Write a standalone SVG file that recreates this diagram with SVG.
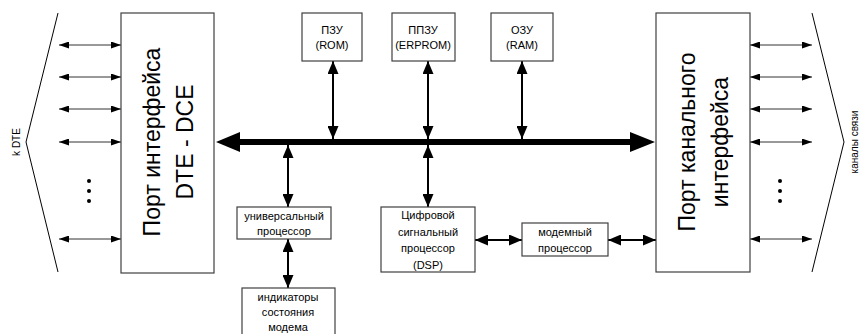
<svg xmlns="http://www.w3.org/2000/svg" width="861" height="334" viewBox="0 0 861 334">
<defs>
<marker id="am" markerUnits="userSpaceOnUse" markerWidth="13" markerHeight="11" refX="13" refY="5.5" orient="auto-start-reverse"><path d="M0,0 L13,5.5 L0,11 z" fill="#000"/></marker>
<marker id="as" markerUnits="userSpaceOnUse" markerWidth="10" markerHeight="7" refX="10" refY="3.5" orient="auto-start-reverse"><path d="M0,0 L10,3.5 L0,7 z" fill="#000"/></marker>
<style>
.box{fill:#fff;stroke:#404040;stroke-width:1.2}
.t{font-family:"Liberation Sans",Arial,sans-serif;font-size:11px;fill:#000;text-anchor:middle}
.big{font-family:"Liberation Sans",Arial,sans-serif;font-size:23px;fill:#000;text-anchor:middle}
.sm{font-family:"Liberation Sans",Arial,sans-serif;font-size:10px;fill:#000;text-anchor:middle}
.m{stroke:#000;stroke-width:2;fill:none;marker-start:url(#am);marker-end:url(#am)}
.s{stroke:#333;stroke-width:1;fill:none;marker-start:url(#as);marker-end:url(#as)}
.br{stroke:#000;stroke-width:1;fill:none}
</style>
</defs>
<rect width="861" height="334" fill="#fff"/>
<g id="connectors">
<line x1="236" y1="142" x2="636" y2="142" stroke="#000" stroke-width="6"/>
<polygon points="216,142 240,132 240,152" fill="#000"/>
<polygon points="655,142 630,132 630,152" fill="#000"/>
<line class="m" x1="333" y1="61" x2="333" y2="139"/>
<line class="m" x1="428" y1="61" x2="428" y2="139"/>
<line class="m" x1="522" y1="61" x2="522" y2="139"/>
<line class="m" x1="288" y1="145" x2="288" y2="207"/>
<line class="m" x1="428" y1="145" x2="428" y2="207"/>
<line class="m" x1="288" y1="239" x2="288" y2="288"/>
<line class="m" x1="475" y1="240" x2="522" y2="240"/>
<line class="m" x1="608" y1="240" x2="656" y2="240"/>
<line class="s" x1="59" y1="45" x2="121" y2="45"/>
<line class="s" x1="59" y1="77" x2="121" y2="77"/>
<line class="s" x1="59" y1="109" x2="121" y2="109"/>
<line class="s" x1="59" y1="142" x2="121" y2="142"/>
<line class="s" x1="59" y1="239" x2="121" y2="239"/>
<line class="s" x1="750" y1="45" x2="812" y2="45"/>
<line class="s" x1="750" y1="77" x2="812" y2="77"/>
<line class="s" x1="750" y1="109" x2="812" y2="109"/>
<line class="s" x1="750" y1="142" x2="812" y2="142"/>
<line class="s" x1="750" y1="239" x2="812" y2="239"/>
<polyline class="br" points="58,13 26,142 58,272"/>
<polyline class="br" points="812,13 844,142 812,272"/>
<circle cx="89" cy="181" r="2"/><circle cx="89" cy="191" r="2"/><circle cx="89" cy="201" r="2"/>
<circle cx="780" cy="181" r="2"/><circle cx="780" cy="191" r="2"/><circle cx="780" cy="201" r="2"/>
</g>
<g id="kdte"><text class="sm" transform="translate(20,142) rotate(-90)">k DTE</text></g>
<g id="kanaly"><text class="sm" transform="translate(858,142) rotate(-90)">каналы связи</text></g>
<g id="port-dte">
<rect class="box" x="121" y="13" width="93" height="260"/>
<text class="big" transform="translate(160,142) rotate(-90)">Порт интерфейса</text>
<text class="big" transform="translate(193,142) rotate(-90)">DTE - DCE</text>
</g>
<g id="port-chan">
<rect class="box" x="656" y="13" width="94" height="259"/>
<text class="big" transform="translate(695,142) rotate(-90)">Порт канального</text>
<text class="big" transform="translate(728,142) rotate(-90)">интерфейса</text>
</g>
<g id="rom"><rect class="box" x="302" y="13" width="60" height="48"/><text class="t" x="332" y="34">ПЗУ</text><text class="t" x="332" y="49">(ROM)</text></g>
<g id="eprom"><rect class="box" x="392" y="13" width="63" height="48"/><text class="t" x="423" y="34">ППЗУ</text><text class="t" x="423" y="49">(ERPROM)</text></g>
<g id="ram"><rect class="box" x="491" y="13" width="62" height="48"/><text class="t" x="522" y="34">ОЗУ</text><text class="t" x="522" y="49">(RAM)</text></g>
<g id="cpu"><rect class="box" x="237" y="207" width="94" height="32"/><text class="t" x="284" y="220">универсальный</text><text class="t" x="284" y="235">процессор</text></g>
<g id="ind"><rect class="box" x="242" y="288" width="93" height="50"/><text class="t" x="288" y="301">индикаторы</text><text class="t" x="288" y="316">состояния</text><text class="t" x="288" y="331">модема</text></g>
<g id="dsp"><rect class="box" x="381" y="207" width="94" height="65"/><text class="t" x="428" y="219">Цифровой</text><text class="t" x="428" y="236">сигнальный</text><text class="t" x="428" y="252">процессор</text><text class="t" x="428" y="269">(DSP)</text></g>
<g id="modem"><rect class="box" x="522" y="223" width="86" height="33"/><text class="t" x="565" y="236">модемный</text><text class="t" x="565" y="252">процессор</text></g>
</svg>
